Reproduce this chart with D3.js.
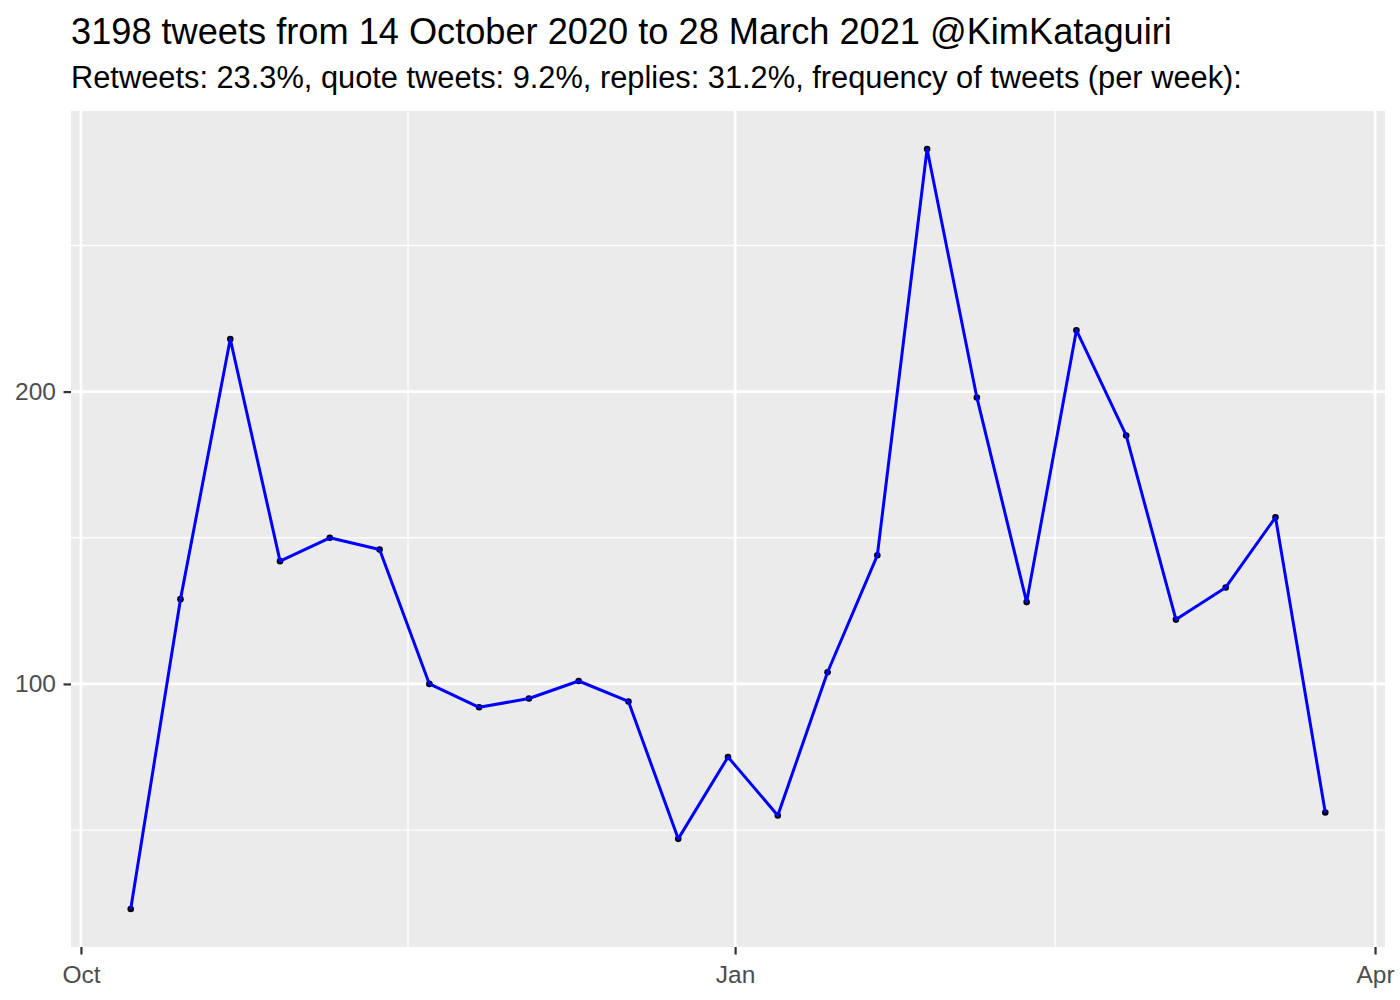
<!DOCTYPE html>
<meta charset="utf-8" />
<title>Tweets per week</title>
<style>
  body { margin: 0; background: #fff; }
  text { font-family: "Liberation Sans", Arial, sans-serif; }
  .grid-major { stroke: #fff; stroke-width: 2.7px; }
  .grid-minor { stroke: #fff; stroke-width: 1.35px; }
  .axis text { fill: #4d4d4d; font-size: 24.5px; }
  .axis line { stroke: #333; stroke-width: 2.2px; }
  .line { fill: none; stroke: #0000ff; stroke-width: 3px; stroke-linejoin: round; }
</style>
<body>
<script src="https://d3js.org/d3.v7.min.js"></script>
<script>
  // weekly counts
  var weeks = [
    "2020-10-08", "2020-10-15", "2020-10-22", "2020-10-29", "2020-11-05",
    "2020-11-12", "2020-11-19", "2020-11-26", "2020-12-03", "2020-12-10",
    "2020-12-17", "2020-12-24", "2020-12-31", "2021-01-07", "2021-01-14",
    "2021-01-21", "2021-01-28", "2021-02-04", "2021-02-11", "2021-02-18",
    "2021-02-25", "2021-03-04", "2021-03-11", "2021-03-18", "2021-03-25"
  ];
  var counts = [
    23, 129, 218, 142, 150, 146, 100, 92, 95, 101, 94, 47, 75,
    55, 104, 144, 283, 198, 128, 221, 185, 122, 133, 157, 56
  ];
  var yTicks = [100, 200];
  var xTicks = ["2020-10-01", "2021-01-01", "2021-04-01"];
  var xTickLabels = ["Oct", "Jan", "Apr"];

  var title = "3198 tweets from 14 October 2020 to 28 March 2021 @KimKataguiri";
  var subtitle = "Retweets: 23.3%, quote tweets: 9.2%, replies: 31.2%, frequency of tweets (per week):";

  var width = 1400, height = 1000;
  var margin = { top: 111, right: 15, bottom: 53, left: 71 };

  var parse = d3.utcParse("%Y-%m-%d");
  var data = weeks.map(function (w, i) {
    return { date: parse(w), n: counts[i] };
  });

  // ggplot-style 5% expansion
  var xExt = d3.extent(data, function (d) { return +d.date; });
  var xPad = (xExt[1] - xExt[0]) * 0.05;
  var yExt = d3.extent(counts);
  var yPad = (yExt[1] - yExt[0]) * 0.05;

  var x = d3.scaleUtc()
    .domain([new Date(xExt[0] - xPad), new Date(xExt[1] + xPad)])
    .range([margin.left, width - margin.right]);
  var y = d3.scaleLinear()
    .domain([yExt[0] - yPad, yExt[1] + yPad])
    .range([height - margin.bottom, margin.top]);

  var svg = d3.select("body").append("svg")
    .attr("width", width)
    .attr("height", height);

  svg.append("text")
    .attr("x", 71).attr("y", 44)
    .style("font-size", "36.2px")
    .text(title);
  svg.append("text")
    .attr("x", 71).attr("y", 88)
    .style("font-size", "30.8px")
    .text(subtitle);

  svg.append("rect")
    .attr("x", margin.left).attr("y", margin.top)
    .attr("width", width - margin.left - margin.right)
    .attr("height", height - margin.top - margin.bottom)
    .attr("fill", "#ebebeb");

  var xMajor = xTicks.map(parse);
  var xMinor = d3.pairs(xMajor).map(function (p) {
    return new Date((+p[0] + +p[1]) / 2);
  });
  var yMinor = [50, 150, 250];

  var grid = svg.append("g");
  grid.selectAll(".ym").data(yMinor).enter().append("line")
    .attr("class", "grid-minor")
    .attr("x1", margin.left).attr("x2", width - margin.right)
    .attr("y1", y).attr("y2", y);
  grid.selectAll(".xm").data(xMinor).enter().append("line")
    .attr("class", "grid-minor")
    .attr("y1", margin.top).attr("y2", height - margin.bottom)
    .attr("x1", x).attr("x2", x);
  grid.selectAll(".yM").data(yTicks).enter().append("line")
    .attr("class", "grid-major")
    .attr("x1", margin.left).attr("x2", width - margin.right)
    .attr("y1", y).attr("y2", y);
  grid.selectAll(".xM").data(xMajor).enter().append("line")
    .attr("class", "grid-major")
    .attr("y1", margin.top).attr("y2", height - margin.bottom)
    .attr("x1", x).attr("x2", x);

  // axes
  var xAxis = d3.axisBottom(x)
    .tickValues(xMajor)
    .tickFormat(function (d, i) { return xTickLabels[i]; })
    .tickSize(7.5).tickPadding(5);
  svg.append("g")
    .attr("class", "axis")
    .attr("transform", "translate(0," + (height - margin.bottom) + ")")
    .call(xAxis)
    .call(function (g) { g.select(".domain").remove(); })
    .selectAll("text").attr("dy", "0.95em");

  var yAxis = d3.axisLeft(y)
    .tickValues(yTicks)
    .tickSize(7.5).tickPadding(7.5);
  svg.append("g")
    .attr("class", "axis")
    .attr("transform", "translate(" + margin.left + ",0)")
    .call(yAxis)
    .call(function (g) { g.select(".domain").remove(); });

  // points then line
  svg.append("g").selectAll("circle").data(data).enter().append("circle")
    .attr("cx", function (d) { return x(d.date); })
    .attr("cy", function (d) { return y(d.n); })
    .attr("r", 3.3)
    .attr("fill", "#000");

  svg.append("path")
    .datum(data)
    .attr("class", "line")
    .attr("d", d3.line()
      .x(function (d) { return x(d.date); })
      .y(function (d) { return y(d.n); }));
</script>
</body>
